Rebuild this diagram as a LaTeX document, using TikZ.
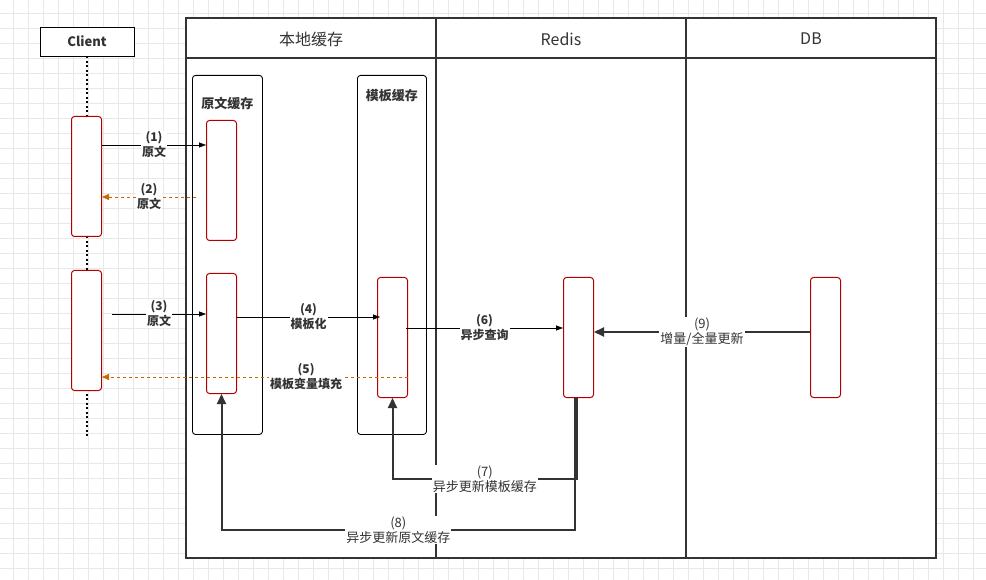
\documentclass[tikz,border=0pt]{standalone}
\usepackage{fontspec}
\setmainfont{Noto Sans CJK SC}
\usepackage{tikz}
\usetikzlibrary{arrows.meta, positioning}
\definecolor{actred}{HTML}{B20000}
\definecolor{fillorange}{HTML}{CC6600}
\definecolor{ink}{HTML}{333333}
\definecolor{gridgray}{HTML}{E8E8E8}

\begin{document}
\begin{tikzpicture}[x=1pt, y=-1pt, every node/.style={text=ink, align=center, font=\fontsize{12}{15}\selectfont}]
    % Define styles for the blocks
    \tikzstyle{actbox} = [rectangle, rounded corners=3pt, draw=actred, line width=1pt, fill=white, minimum width=30pt, minimum height=120pt, anchor=north west, inner sep=0pt]
    \tikzstyle{cachebox} = [rectangle, rounded corners=3pt, draw=black, line width=0.9pt, fill=white, minimum width=70pt, minimum height=359pt, anchor=north west, inner sep=0pt]
    \tikzstyle{lanetitle} = [font=\fontsize{16}{18}\selectfont]
    \tikzstyle{boldlabel} = [fill=white, inner sep=1pt, font=\fontsize{12}{15}\selectfont\bfseries]
    \tikzstyle{plainlabel} = [fill=white, inner sep=1pt, font=\fontsize{13}{15}\selectfont]
    \tikzstyle{arrow} = [black, ->, >={Triangle[length=7pt, width=5pt]}]
    \tikzstyle{backarrow} = [fillorange, dashed, ->, >={Triangle[length=7pt, width=6pt]}]
    \tikzstyle{syncarrow} = [ink, line width=2pt, ->, >={Triangle[length=10pt, width=9pt]}]

    \useasboundingbox (0,0) rectangle (986,580);

    % Background grid
    \foreach \gx in {13.3,28.3,...,986} \draw[gridgray, line width=0.8pt] (\gx,0) -- (\gx,580);
    \foreach \gy in {13.3,28.3,...,580} \draw[gridgray, line width=0.8pt] (0,\gy) -- (986,\gy);

    % Swimlanes
    \draw[ink, line width=2pt, fill=white] (186,18) rectangle (936,558);
    \draw[ink, line width=2pt] (186,58) -- (936,58);
    \draw[ink, line width=2pt] (436,18) -- (436,558);
    \draw[ink, line width=2pt] (686,18) -- (686,558);
    \node (hdrlocal) [lanetitle] at (311,39) {本地缓存};
    \node (hdrredis) [lanetitle] at (561,39) {Redis};
    \node (hdrdb) [lanetitle] at (811,39) {DB};

    % Client and its lifeline
    \node (client) [rectangle, draw=black, fill=white, minimum width=94pt, minimum height=29pt, font=\fontsize{13}{15}\selectfont\bfseries] at (87,41.5) {Client};
    \coordinate (lifeend) at (87,438);
    \draw[black, line width=2pt, dash pattern=on 2pt off 2.5pt] (client.south) -- (lifeend);
    \node (cl1) [actbox] at (71,116) {};
    \node (cl2) [actbox] at (71,270) {};

    % Local cache containers
    \node (ocache) [cachebox] at (192,75) {};
    \node (tcache) [cachebox, minimum width=69pt] at (357,75) {};
    \node (ocachetitle) [below=19pt of ocache.north, font=\fontsize{13}{15}\selectfont\bfseries] {原文缓存};
    \node (tcachetitle) [below=11pt of tcache.north, font=\fontsize{13}{15}\selectfont\bfseries] {模板缓存};
    \node (oc1) [actbox] at (206,120) {};
    \node (oc2) [actbox] at (206,273) {};
    \node (tc) [actbox] at (377,277) {};

    % Redis and DB
    \node (rd) [actbox] at (563,277) {};
    \node (db) [actbox] at (810,277) {};

    % Requests from the client
    \draw [arrow] ([yshift=-29pt]cl1.north east) -- node[boldlabel] {(1)\\原文} ([yshift=-25pt]oc1.north west);
    \draw [backarrow] ([xshift=-10pt, yshift=-77pt]oc1.north west) -- node[boldlabel] {(2)\\原文} ([yshift=-81pt]cl1.north east);
    \draw [arrow] ([xshift=10pt, yshift=-44pt]cl2.north east) -- node[boldlabel] {(3)\\原文} ([yshift=-41pt]oc2.north west);
    \draw [arrow] ([yshift=-44pt]oc2.north east) -- node[boldlabel] {(4)\\模板化} ([xshift=3pt, yshift=-40pt]tc.north west);
    \draw [backarrow] ([yshift=-100pt]tc.north east) -- node[boldlabel, pos=0.333] {(5)\\模板变量填充} ([yshift=-107pt]cl2.north east);
    \draw [arrow] ([xshift=-2pt, yshift=-51pt]tc.north east) -- node[boldlabel] {(6)\\异步查询} ([yshift=-51pt]rd.north west);

    % Updates
    \draw [syncarrow] ([yshift=-55pt]db.north west) -- node[plainlabel] {(9)\\增量/全量更新} ([yshift=-55pt]rd.north east);
    \draw [syncarrow] ([xshift=14pt]rd.south west) -- ([xshift=14pt, yshift=-81pt]rd.south west) -| node[plainlabel, pos=0.25] {(7)\\异步更新模板缓存} (tc.south);
    \draw [syncarrow] ([xshift=12pt]rd.south west) -- ([xshift=12pt, yshift=-132pt]rd.south west) -| node[plainlabel, pos=0.25] {(8)\\异步更新原文缓存} (oc2.south);

\end{tikzpicture}
\end{document}
